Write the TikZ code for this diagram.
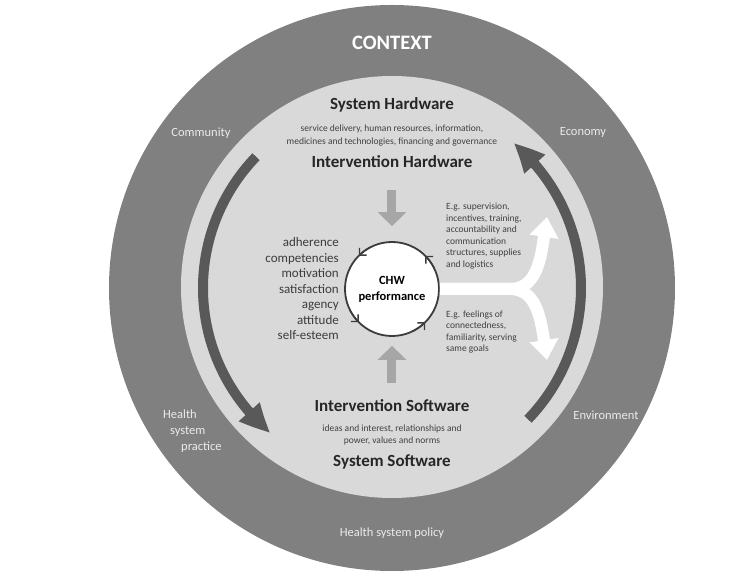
\documentclass[tikz,border=0pt]{standalone}
\usepackage{fontspec}
\setmainfont{Carlito}
\usetikzlibrary{arrows.meta, bending, positioning}
\definecolor{RingGray}{HTML}{808080}
\definecolor{PaleGray}{HTML}{D9D9D9}
\definecolor{ArcGray}{HTML}{595959}
\definecolor{PushGray}{HTML}{A6A6A6}
\definecolor{InkGray}{HTML}{262626}
\definecolor{SoftInk}{HTML}{404040}

\begin{document}
\begin{tikzpicture}[x=1pt, y=1pt,
        ringlabel/.style={text=white!92!black, font=\fontsize{12.5}{16}\selectfont, inner sep=0pt, align=center},
        hdr/.style={text=InkGray, font=\bfseries\fontsize{17}{20}\selectfont, inner sep=0pt},
        small/.style={text=SoftInk, font=\fontsize{9.5}{12.5}\selectfont, inner sep=0pt, align=center},
        example/.style={text=SoftInk, font=\fontsize{9.5}{11.6}\selectfont, inner sep=0pt, align=left, anchor=west},
        trait/.style={text=InkGray!90, font=\fontsize{13}{15.5}\selectfont, inner sep=0pt, align=right, anchor=east},
        core/.style={circle, draw=InkGray!90, line width=1.8pt, fill=white, minimum size=94pt, inner sep=0pt, align=center, font=\bfseries\fontsize{12.5}{16}\selectfont},
        looparc/.style={-{Triangle[width=26pt, length=30pt, bend]}, line width=10pt, ArcGray},
        push/.style={-{Triangle[width=28pt, length=14pt]}, line width=9pt, PushGray},
        branch/.style={-{Triangle[width=28pt, length=20pt]}, line width=12pt, white},
        spin/.style={-{Straight Barb[length=5pt, width=10pt]}, line width=1.4pt, InkGray!90}
    ]
        \useasboundingbox (-392,-292) rectangle (352,288);
        \fill[RingGray] (0,0) circle[radius=283];
        \fill[PaleGray] (0,1) circle[radius=211];

        \node[text=white, font=\bfseries\fontsize{20.5}{24}\selectfont, inner sep=0pt] (context) at (0,245) {CONTEXT};
        \node[ringlabel] (community) at (-191,155) {Community};
        \node[ringlabel] (economy) at (191,155) {Economy};
        \node[ringlabel] (environment) at (214,-127) {Environment};
        \node[ringlabel, align=left, anchor=west] (practice) at (-229,-143) {Health\\\hspace*{7pt}system\\\hspace*{18pt}practice};
        \node[ringlabel] (policy) at (0,-245) {Health system policy};

        \node[hdr] (shw) at (0,183) {System Hardware};
        \node[small] (shwlist) at (0,152.5) {service delivery, human resources, information,\\medicines and technologies, financing and governance};
        \node[hdr] (ihw) at (0,126) {Intervention Hardware};
        \node[hdr] (isw) at (0,-118) {Intervention Software};
        \node[small] (iswlist) at (0,-147) {ideas and interest, relationships and\\power, values and norms};
        \node[hdr] (ssw) at (0,-174) {System Software};

        \node[core] (chw) at (0,-1) {CHW\\performance};
        \node[trait] (traits) at (-53,-1) {adherence\\competencies\hspace*{6pt}\\motivation\hspace*{12pt}\\satisfaction\hspace*{16pt}\\agency\hspace*{12pt}\\attitude\hspace*{8pt}\\self-esteem};
        \node[example] (hwnote) at (54,52) {E.g. supervision,\\incentives, training,\\accountability and\\communication\\structures, supplies\\and logistics};
        \node[example] (swnote) at (54,-44) {E.g. feelings of\\connectedness,\\familiarity, serving\\same goals};

        \coordinate (lefttop) at (136:189);
        \coordinate (rightbottom) at (-44:189);
        \draw[looparc] (lefttop) arc[start angle=136, end angle=230, radius=189];
        \draw[looparc] (rightbottom) arc[start angle=-44, end angle=50, radius=189];

        \draw[push] ([yshift=-28pt]ihw.center) -- ([yshift=15pt]chw.north);
        \draw[push] ([yshift=23pt]isw.center) -- ([yshift=-9pt]chw.south);

        \coordinate[right=70pt of chw.east] (fork);
        \coordinate (upend) at (155,71);
        \coordinate (downend) at (155,-72);
        \draw[branch] (chw.east) -- (fork) to[out=0, in=-100] (upend);
        \draw[branch] (chw.east) -- (fork) to[out=0, in=100] (downend);

        \foreach \ang in {45,135,225,315}
            \draw[spin] (chw.center) ++(\ang-18:47) arc[start angle=\ang-18, end angle=\ang, radius=47];
    \end{tikzpicture}
\end{document}
